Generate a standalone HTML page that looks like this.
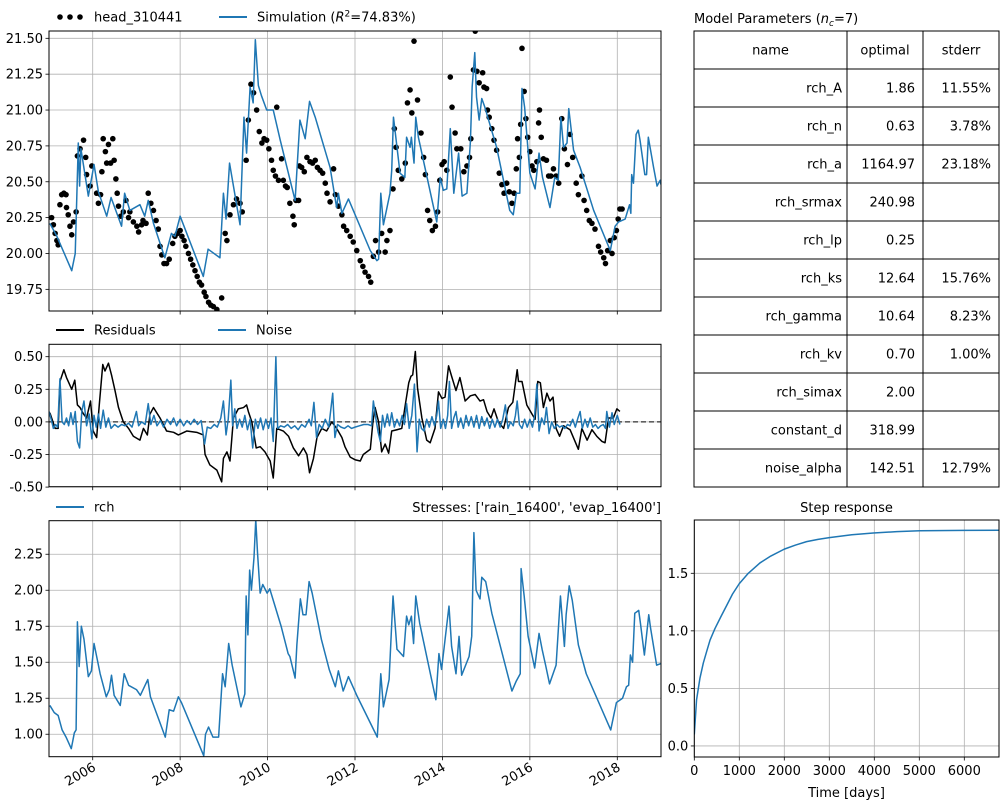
<!DOCTYPE html>
<html><head><meta charset="utf-8"><style>
body{margin:0;background:#fff;}
svg{display:block;font-family:"DejaVu Sans","Liberation Sans",sans-serif;}
</style></head><body>
<svg id="fig" width="1000" height="800" viewBox="0 0 1000 800" xmlns="http://www.w3.org/2000/svg">
<rect width="1000" height="800" fill="#fff"/>
</svg>
<script>
// ---------------- DATA ----------------
const simYears=[2005.02,2005.18,2005.52,2005.6,2005.67,2005.7,2005.73,2005.9,2006.03,2006.13,2006.32,2006.42,2006.66,2006.73,2006.85,2007.08,2007.19,2007.27,2007.39,2007.65,2007.8,2007.88,2008.0,2008.53,2008.64,2008.91,2008.99,2009.05,2009.13,2009.37,2009.46,2009.52,2009.6,2009.67,2009.72,2009.79,2009.86,2009.98,2010.13,2010.29,2010.63,2010.74,2010.86,2010.96,2011.09,2011.43,2011.58,2011.62,2011.7,2011.85,2012.35,2012.5,2012.54,2012.59,2012.65,2012.8,2012.84,2012.88,2013.03,2013.14,2013.18,2013.26,2013.29,2013.35,2013.39,2013.45,2013.87,2013.95,2014.02,2014.1,2014.18,2014.26,2014.37,2014.45,2014.56,2014.6,2014.64,2014.68,2014.74,2014.78,2014.84,2014.9,2014.97,2015.24,2015.54,2015.62,2015.69,2015.77,2015.82,2015.88,2016.0,2016.12,2016.21,2016.29,2016.46,2016.57,2016.65,2016.71,2016.77,2016.85,2016.89,2017.0,2017.15,2017.46,2017.84,2017.95,2018.03,2018.18,2018.28,2018.31,2018.33,2018.37,2018.43,2018.48,2018.52,2018.63,2018.67,2018.71,2018.83,2018.91,2018.98,2019.0];
const simValues=[20.21,20.12,19.88,20.0,20.77,20.47,20.73,20.40,20.62,20.43,20.26,20.39,20.19,20.42,20.30,20.34,20.26,20.37,20.21,19.97,20.14,20.12,20.26,19.84,20.03,19.97,20.42,20.24,20.63,20.2,20.95,20.70,21.16,21.05,21.49,21.17,21.10,21.0,21.0,20.79,20.37,20.93,20.8,21.06,20.95,20.60,20.32,20.42,20.28,20.38,20.02,19.95,19.96,20.42,20.2,20.42,20.58,20.95,20.56,20.53,20.81,20.74,20.81,20.63,20.95,20.81,20.22,20.53,20.44,20.45,20.87,20.42,20.70,20.40,20.42,20.6,20.78,21.16,21.40,21.09,20.93,21.08,21.02,20.74,20.30,20.27,20.42,20.42,21.15,21.02,20.56,20.45,20.70,20.53,20.32,20.53,20.51,20.95,20.74,20.77,21.01,20.72,20.60,20.30,20.02,20.19,20.22,20.24,20.34,20.28,20.55,20.49,20.83,20.86,20.79,20.55,20.55,20.81,20.6,20.47,20.51,20.48];
const obsYears=[2005.06,2005.10,2005.14,2005.18,2005.21,2005.25,2005.29,2005.34,2005.39,2005.40,2005.44,2005.48,2005.52,2005.56,2005.62,2005.65,2005.71,2005.79,2005.84,2005.86,2005.94,2005.98,2006.09,2006.13,2006.18,2006.21,2006.24,2006.29,2006.32,2006.36,2006.41,2006.46,2006.49,2006.53,2006.56,2006.59,2006.64,2006.70,2006.76,2006.82,2006.85,2006.93,2007.01,2007.05,2007.12,2007.15,2007.22,2007.27,2007.33,2007.39,2007.45,2007.50,2007.54,2007.58,2007.63,2007.69,2007.75,2007.83,2007.88,2007.94,2008.00,2008.04,2008.09,2008.13,2008.19,2008.24,2008.29,2008.34,2008.39,2008.44,2008.49,2008.55,2008.59,2008.65,2008.70,2008.76,2008.84,2008.95,2009.03,2009.07,2009.14,2009.22,2009.29,2009.37,2009.42,2009.51,2009.56,2009.62,2009.68,2009.75,2009.81,2009.87,2009.92,2009.98,2010.03,2010.09,2010.13,2010.18,2010.21,2010.25,2010.32,2010.36,2010.41,2010.45,2010.51,2010.58,2010.61,2010.65,2010.71,2010.73,2010.78,2010.84,2010.90,2010.97,2011.03,2011.09,2011.14,2011.20,2011.26,2011.32,2011.36,2011.43,2011.51,2011.55,2011.62,2011.70,2011.74,2011.81,2011.89,2011.96,2012.04,2012.12,2012.18,2012.23,2012.31,2012.36,2012.42,2012.47,2012.54,2012.61,2012.69,2012.73,2012.80,2012.87,2012.90,2012.94,2012.99,2013.07,2013.15,2013.20,2013.26,2013.30,2013.35,2013.43,2013.51,2013.57,2013.61,2013.66,2013.71,2013.77,2013.84,2013.89,2013.94,2013.99,2014.04,2014.10,2014.18,2014.22,2014.29,2014.33,2014.42,2014.49,2014.56,2014.62,2014.65,2014.71,2014.75,2014.79,2014.84,2014.92,2014.95,2015.01,2015.03,2015.07,2015.13,2015.18,2015.24,2015.30,2015.36,2015.41,2015.47,2015.53,2015.59,2015.64,2015.69,2015.72,2015.76,2015.79,2015.82,2015.87,2015.91,2015.95,2016.00,2016.05,2016.09,2016.16,2016.20,2016.22,2016.26,2016.31,2016.38,2016.43,2016.48,2016.54,2016.60,2016.66,2016.73,2016.79,2016.86,2016.92,2016.98,2017.06,2017.11,2017.19,2017.24,2017.30,2017.36,2017.42,2017.49,2017.57,2017.62,2017.69,2017.73,2017.78,2017.84,2017.88,2017.93,2017.98,2018.02,2018.06,2018.11];
const obsValues=[20.25,20.20,20.14,20.09,20.06,20.34,20.41,20.42,20.41,20.32,20.27,20.19,20.13,20.22,20.29,20.68,20.73,20.79,20.67,20.55,20.47,20.61,20.42,20.35,20.41,20.57,20.80,20.71,20.63,20.76,20.63,20.80,20.65,20.52,20.42,20.33,20.26,20.29,20.37,20.25,20.29,20.22,20.19,20.15,20.20,20.23,20.21,20.42,20.35,20.30,20.23,20.17,20.05,19.99,19.93,19.93,19.96,20.07,20.12,20.14,20.16,20.12,20.09,20.05,20.00,19.96,19.92,19.88,19.84,19.80,19.78,19.73,19.70,19.66,19.64,19.63,19.61,19.69,20.14,20.09,20.27,20.34,20.38,20.35,20.29,20.65,20.93,21.18,21.12,21.0,20.85,20.77,20.80,20.79,20.73,20.65,20.58,20.54,21.02,20.51,20.66,20.51,20.47,20.46,20.35,20.26,20.20,20.37,20.37,20.61,20.60,20.57,20.67,20.64,20.63,20.65,20.60,20.58,20.56,20.49,20.42,20.36,20.59,20.41,20.33,20.27,20.19,20.16,20.12,20.08,20.02,19.95,19.91,19.87,19.84,19.80,19.98,20.09,20.01,20.14,20.01,20.09,20.16,20.45,20.87,20.74,20.58,20.52,20.63,21.05,21.14,20.98,21.48,21.07,20.84,20.67,20.55,20.30,20.23,20.16,20.19,20.29,20.51,20.62,20.64,20.58,21.23,21.02,20.84,20.73,20.73,20.57,20.61,20.67,20.80,21.28,21.55,21.27,21.19,21.26,21.16,21.15,21.00,20.95,20.87,20.79,20.72,20.56,20.48,20.42,20.49,20.43,20.35,20.42,20.59,20.80,20.67,20.90,21.43,21.13,20.94,20.81,20.71,20.61,20.58,20.64,20.91,21.00,20.81,20.66,20.65,20.54,20.54,20.59,20.54,20.49,20.94,20.73,20.62,20.83,20.67,20.49,20.41,20.54,20.37,20.30,20.23,20.21,20.17,20.05,20.01,19.97,19.93,20.02,20.09,20.00,20.11,20.16,20.24,20.31,20.31];
const resYears=[2005.02,2005.14,2005.21,2005.25,2005.34,2005.40,2005.52,2005.59,2005.65,2005.71,2005.79,2005.86,2005.95,2006.01,2006.09,2006.15,2006.23,2006.28,2006.36,2006.43,2006.51,2006.59,2006.70,2006.82,2006.93,2007.08,2007.16,2007.25,2007.31,2007.39,2007.54,2007.69,2007.85,2007.96,2008.15,2008.38,2008.53,2008.57,2008.68,2008.84,2008.95,2008.99,2009.07,2009.14,2009.22,2009.33,2009.45,2009.52,2009.56,2009.64,2009.74,2009.83,2009.94,2010.06,2010.13,2010.21,2010.36,2010.48,2010.59,2010.71,2010.82,2010.90,2010.96,2011.05,2011.13,2011.24,2011.35,2011.47,2011.58,2011.70,2011.77,2011.89,2012.00,2012.12,2012.19,2012.35,2012.41,2012.46,2012.54,2012.61,2012.69,2012.77,2012.84,2012.96,2013.07,2013.15,2013.23,2013.28,2013.32,2013.38,2013.43,2013.53,2013.64,2013.72,2013.83,2013.91,2013.99,2014.06,2014.14,2014.21,2014.31,2014.40,2014.52,2014.64,2014.75,2014.86,2014.94,2015.02,2015.11,2015.18,2015.28,2015.40,2015.51,2015.61,2015.71,2015.74,2015.82,2015.93,2016.05,2016.12,2016.18,2016.24,2016.31,2016.39,2016.46,2016.53,2016.60,2016.68,2016.77,2016.92,2017.11,2017.19,2017.31,2017.42,2017.53,2017.65,2017.72,2017.80,2017.91,2017.99,2018.06];
const resValues=[0.07,-0.05,-0.05,0.31,0.40,0.34,0.25,0.32,0.13,0.11,0.06,0.03,0.16,-0.07,-0.12,0.13,0.44,0.39,0.45,0.36,0.24,0.11,0.0,-0.05,-0.11,-0.14,-0.05,-0.10,0.06,0.11,0.03,-0.07,-0.08,-0.10,-0.07,-0.08,-0.10,-0.25,-0.33,-0.37,-0.46,-0.28,-0.23,-0.30,0.03,0.10,0.11,0.13,0.08,0.0,-0.2,-0.19,-0.23,-0.30,-0.43,-0.05,-0.07,-0.11,-0.2,-0.26,-0.20,-0.25,-0.39,-0.28,-0.12,-0.05,-0.07,0.0,-0.05,-0.12,-0.19,-0.27,-0.29,-0.30,-0.25,-0.21,0.0,0.11,0.0,-0.23,-0.17,-0.24,-0.07,-0.06,-0.05,0.13,0.30,0.35,0.36,0.54,0.26,0.03,-0.14,-0.16,-0.05,0.23,0.18,0.19,0.43,0.35,0.24,0.34,0.16,0.20,0.21,0.16,0.17,0.08,0.03,0.10,0.0,-0.05,0.11,0.15,0.40,0.31,0.31,0.13,0.06,0.02,0.31,0.30,0.11,0.22,0.16,0.19,-0.05,-0.11,-0.03,-0.06,-0.21,-0.05,-0.14,-0.06,-0.11,-0.15,-0.16,0.03,0.03,0.10,0.08];
const noiseYears=[2005.00,2005.05,2005.10,2005.15,2005.20,2005.25,2005.30,2005.35,2005.40,2005.45,2005.50,2005.55,2005.60,2005.65,2005.70,2005.75,2005.80,2005.86,2005.92,2005.98,2006.03,2006.08,2006.13,2006.18,2006.24,2006.30,2006.36,2006.42,2006.50,2006.58,2006.66,2006.74,2006.82,2006.90,2007.00,2007.05,2007.12,2007.20,2007.27,2007.33,2007.40,2007.47,2007.55,2007.62,2007.70,2007.78,2007.85,2007.92,2008.00,2008.08,2008.16,2008.24,2008.32,2008.40,2008.48,2008.56,2008.62,2008.70,2008.78,2008.85,2008.93,2008.99,2009.05,2009.10,2009.16,2009.20,2009.25,2009.30,2009.36,2009.42,2009.48,2009.54,2009.60,2009.66,2009.72,2009.78,2009.84,2009.90,2009.96,2010.02,2010.08,2010.13,2010.19,2010.23,2010.30,2010.38,2010.46,2010.54,2010.62,2010.70,2010.78,2010.86,2010.95,2011.00,2011.06,2011.12,2011.18,2011.25,2011.32,2011.40,2011.49,2011.54,2011.60,2011.68,2011.76,2011.84,2011.92,2012.00,2012.10,2012.20,2012.30,2012.38,2012.42,2012.48,2012.53,2012.58,2012.63,2012.68,2012.74,2012.79,2012.84,2012.90,2012.96,2013.02,2013.08,2013.13,2013.18,2013.24,2013.30,2013.36,2013.42,2013.47,2013.52,2013.58,2013.64,2013.70,2013.76,2013.82,2013.87,2013.91,2013.96,2014.02,2014.07,2014.12,2014.16,2014.21,2014.26,2014.31,2014.36,2014.42,2014.48,2014.54,2014.60,2014.66,2014.72,2014.78,2014.84,2014.90,2014.96,2015.02,2015.08,2015.14,2015.20,2015.26,2015.32,2015.38,2015.44,2015.50,2015.56,2015.62,2015.67,2015.71,2015.76,2015.82,2015.88,2015.94,2016.00,2016.06,2016.11,2016.16,2016.21,2016.27,2016.33,2016.38,2016.44,2016.50,2016.56,2016.62,2016.68,2016.74,2016.80,2016.86,2016.92,2016.98,2017.04,2017.10,2017.15,2017.20,2017.26,2017.32,2017.38,2017.44,2017.50,2017.56,2017.62,2017.68,2017.73,2017.76,2017.82,2017.88,2017.93,2018.00,2018.06];
const noiseValues=[0.08,0.02,-0.05,-0.02,-0.04,0.33,0.0,-0.02,0.03,-0.03,0.07,-0.02,0.08,-0.15,-0.20,0.08,0.16,-0.03,0.06,-0.13,0.05,-0.04,0.06,-0.05,0.09,-0.04,0.03,-0.05,-0.02,-0.04,-0.02,-0.03,-0.01,-0.04,0.08,-0.03,0.0,-0.02,0.14,-0.02,0.05,-0.03,0.01,-0.04,0.02,-0.02,0.03,-0.03,0.02,-0.03,0.01,-0.02,0.02,-0.02,0.01,-0.17,-0.04,-0.05,-0.02,-0.04,0.03,0.16,-0.10,0.02,0.32,-0.03,0.10,-0.05,0.02,-0.04,0.05,-0.06,0.02,-0.20,0.02,-0.05,0.03,-0.06,0.02,-0.05,0.03,-0.15,0.50,-0.05,-0.03,-0.04,-0.02,-0.05,-0.03,-0.06,-0.02,-0.04,0.02,-0.03,0.15,-0.12,-0.02,-0.05,0.02,-0.04,0.22,-0.12,-0.02,-0.04,-0.05,-0.03,-0.05,-0.04,-0.03,-0.02,-0.02,-0.03,0.16,0.02,-0.08,-0.15,0.05,-0.04,0.06,-0.03,0.07,-0.04,0.02,-0.03,0.05,-0.02,0.14,-0.05,0.05,0.29,-0.23,0.02,-0.05,-0.07,0.02,-0.04,0.04,-0.03,0.05,0.16,-0.05,0.02,-0.05,0.05,0.31,-0.05,0.03,0.08,-0.04,0.03,-0.05,0.05,-0.03,0.04,-0.04,0.05,-0.05,0.04,-0.03,0.03,-0.05,0.02,-0.04,0.02,-0.04,0.02,0.13,-0.05,0.0,-0.03,0.05,0.16,-0.02,-0.05,0.02,-0.04,0.02,-0.04,0.05,0.29,-0.07,0.03,-0.02,0.11,-0.09,0.0,-0.05,-0.02,-0.04,-0.03,-0.05,-0.02,-0.03,0.02,-0.04,0.03,0.08,-0.05,0.02,-0.04,0.03,-0.04,-0.02,-0.05,-0.03,-0.02,-0.05,0.08,-0.04,0.07,-0.02,0.05,-0.02];
const rchYears=[2005.02,2005.12,2005.21,2005.30,2005.39,2005.51,2005.58,2005.62,2005.65,2005.69,2005.74,2005.80,2005.90,2005.97,2006.03,2006.17,2006.31,2006.38,2006.43,2006.49,2006.63,2006.72,2006.82,2007.00,2007.09,2007.26,2007.32,2007.66,2007.75,2007.85,2007.96,2008.03,2008.54,2008.58,2008.65,2008.75,2008.88,2008.97,2009.03,2009.11,2009.19,2009.39,2009.48,2009.51,2009.55,2009.59,2009.63,2009.69,2009.73,2009.77,2009.83,2009.89,2009.99,2010.05,2010.12,2010.31,2010.47,2010.51,2010.63,2010.67,2010.75,2010.81,2010.88,2010.95,2011.02,2011.23,2011.41,2011.55,2011.62,2011.73,2011.85,2012.04,2012.51,2012.59,2012.65,2012.78,2012.87,2012.96,2013.11,2013.18,2013.23,2013.29,2013.34,2013.39,2013.48,2013.85,2013.92,2013.98,2014.15,2014.21,2014.31,2014.38,2014.44,2014.61,2014.67,2014.72,2014.77,2014.86,2014.90,2014.99,2015.13,2015.59,2015.69,2015.78,2015.80,2015.87,2015.96,2016.11,2016.21,2016.28,2016.36,2016.45,2016.60,2016.65,2016.70,2016.79,2016.83,2016.90,2016.97,2017.11,2017.29,2017.85,2017.98,2018.12,2018.21,2018.26,2018.30,2018.35,2018.40,2018.49,2018.53,2018.62,2018.72,2018.76,2018.90,2018.99];
const rchValues=[1.20,1.15,1.13,1.03,0.98,0.90,1.01,1.03,1.78,1.47,1.75,1.66,1.40,1.44,1.63,1.42,1.26,1.31,1.41,1.27,1.20,1.42,1.34,1.31,1.27,1.38,1.26,0.98,1.17,1.16,1.26,1.22,0.85,1.0,1.05,0.98,0.98,1.42,1.33,1.63,1.48,1.19,1.28,1.96,1.69,2.14,2.0,2.23,2.49,2.26,1.98,2.04,1.98,2.01,1.94,1.75,1.56,1.54,1.39,1.62,1.94,1.83,1.83,2.06,1.98,1.66,1.45,1.33,1.44,1.30,1.40,1.27,0.98,1.42,1.19,1.38,1.96,1.59,1.54,1.82,1.76,1.82,1.63,1.96,1.77,1.24,1.56,1.45,1.89,1.61,1.42,1.68,1.41,1.54,1.68,2.40,2.0,1.94,2.09,2.06,1.84,1.30,1.37,1.42,2.15,1.96,1.68,1.46,1.70,1.59,1.48,1.35,1.48,1.72,1.96,1.61,1.83,2.03,1.93,1.62,1.42,1.03,1.22,1.25,1.33,1.34,1.55,1.50,1.84,1.86,1.77,1.55,1.83,1.74,1.48,1.49];
const stepTimes=[0,50,126,200,274,350,459,600,719,850,1000,1200,1459,1700,2000,2250,2496,2750,3000,3500,3978,4500,5015,6000,6793];
const stepValues=[0.10,0.40,0.59,0.72,0.82,0.92,1.02,1.13,1.22,1.32,1.41,1.50,1.59,1.65,1.71,1.745,1.775,1.795,1.81,1.835,1.85,1.862,1.87,1.873,1.874];
const yearTicks=[2006,2008,2010,2012,2014,2016,2018];
const headTicks=[19.75,20.00,20.25,20.50,20.75,21.00,21.25,21.50];
const resTicks=[-0.50,-0.25,0.00,0.25,0.50];
const rchTicks=[1.00,1.25,1.50,1.75,2.00,2.25];
const stepYTicks=[0.0,0.5,1.0,1.5];
const stepXTicks=[0,1000,2000,3000,4000,5000,6000];
const paramNames=["rch_A","rch_n","rch_a","rch_srmax","rch_lp","rch_ks","rch_gamma","rch_kv","rch_simax","constant_d","noise_alpha"];
const paramOptimal=["1.86","0.63","1164.97","240.98","0.25","12.64","10.64","0.70","2.00","318.99","142.51"];
const paramStderr=["11.55%","3.78%","23.18%","","","15.76%","8.23%","1.00%","","","12.79%"];

// ---------------- HELPERS ----------------
const SVGNS="http://www.w3.org/2000/svg";
const figEl=document.getElementById('fig');
function mk(tag,attrs,parent,text){const e=document.createElementNS(SVGNS,tag);for(const k in attrs)e.setAttribute(k,attrs[k]);if(text!==undefined)e.textContent=text;(parent||figEl).appendChild(e);return e;}
function scale(d0,d1,p0,p1){return v=>p0+(v-d0)/(d1-d0)*(p1-p0);}
const BLUE="#1f77b4";

function panel(name,x0,x1,y0,y1,xmin,xmax,ymin,ymax,xtk,ytk,fmtY,xlabels,fmtX){
  const g=mk('g',{});
  
  
  const X=scale(xmin,xmax,x0,x1),Y=scale(ymin,ymax,y1,y0);
  const grid=mk('g',{},g);
  
  
  xtk.forEach(t=>{const gl=mk('line',{x1:X(t),x2:X(t),y1:y0,y2:y1,stroke:'#b0b0b0','stroke-width':0.8},grid);
    
    });
  ytk.forEach(t=>{const gl=mk('line',{x1:x0,x2:x1,y1:Y(t),y2:Y(t),stroke:'#b0b0b0','stroke-width':0.8},grid);
    
    });
  const axg=mk('g',{},g);
  
  
  ytk.forEach(t=>{mk('line',{x1:x0-3.5,x2:x0,y1:Y(t),y2:Y(t),stroke:'#000','stroke-width':0.8},axg);
    const tx=mk('text',{x:x0-6,y:Y(t)+4.5,'text-anchor':'end','font-size':13},axg,fmtY(t));
    
    });
  xtk.forEach(t=>{mk('line',{x1:X(t),x2:X(t),y1:y1,y2:y1+3.5,stroke:'#000','stroke-width':0.8},axg);
    if(xlabels==='rot'){const tx=mk('text',{x:X(t)+4,y:y1+13,'text-anchor':'end','font-size':13,transform:'rotate(-30 '+(X(t)+4)+' '+(y1+13)+')'},axg,String(t));
      
      }
    else if(xlabels==='num'){const tx=mk('text',{x:X(t),y:y1+18,'text-anchor':'middle','font-size':13},axg,fmtX(t));
      
      }
  });
  const clipId='clip-'+name;
  const cp=mk('clipPath',{id:clipId},g);mk('rect',{x:x0,y:y0,width:x1-x0,height:y1-y0},cp);
  const plot=mk('g',{'clip-path':'url(#'+clipId+')'},g);
  
  
  const frame=mk('rect',{x:x0,y:y0,width:x1-x0,height:y1-y0,fill:'none',stroke:'#000','stroke-width':1},g);
  
  
  return {X,Y,plot,g};
}
function drawLine(p,xs,ys,color,w,name){
  const d=xs.map((x,i)=>(i?'L':'M')+p.X(x).toFixed(2)+','+p.Y(ys[i]).toFixed(2)).join('');
  const pa=mk('path',{d:d,fill:'none',stroke:color,'stroke-width':w,'stroke-linejoin':'round'},p.plot);
  
  
  return pa;
}
const f2=v=>v.toFixed(2), f1=v=>v.toFixed(1);

// ---------------- TOP PANEL ----------------
const headP=panel('head-panel',49,661,31,311,2005,2019,19.599,21.551,yearTicks,headTicks,f2,null);
obsYears.forEach((yr,i)=>{const c=mk('circle',{cx:headP.X(yr),cy:headP.Y(obsValues[i]),r:2.8,fill:'#000'},headP.plot);
  
  });
drawLine(headP,simYears,simValues,BLUE,1.5,'simulation-line');

// ---------------- MIDDLE PANEL ----------------
const resP=panel('residuals-panel',49,661,344.3,486.7,2005,2019,-0.497,0.595,yearTicks,resTicks,f2,null);
const zl=mk('line',{x1:49,x2:661,y1:resP.Y(0),y2:resP.Y(0),stroke:'#000','stroke-width':1,'stroke-dasharray':'5,3'},resP.plot);


drawLine(resP,resYears,resValues,'#000',1.5,'residuals-line');
drawLine(resP,noiseYears,noiseValues,BLUE,1.5,'noise-line');

// ---------------- BOTTOM PANEL ----------------
const rchP=panel('recharge-panel',49,661,520.7,756.7,2005,2019,0.844,2.483,yearTicks,rchTicks,f2,'rot');
drawLine(rchP,rchYears,rchValues,BLUE,1.5,'rch-line');

// ---------------- STEP RESPONSE ----------------
const stepP=panel('step-response-panel',694.3,999,520,757,0,6771,-0.096,1.963,stepXTicks,stepYTicks,f1,'num',v=>String(v));
drawLine(stepP,stepTimes,stepValues,BLUE,1.5,'step-response-line');

// ---------------- LEGENDS & TITLES ----------------
function legend(name,items,y){
  const g=mk('g',{});
  
  
  items.forEach(it=>{
    if(it.dots){[0,1,2].forEach(k=>mk('circle',{cx:it.x+4+k*10,cy:y,r:2.8,fill:it.color},g));}
    else mk('line',{x1:it.x,x2:it.x+28,y1:y,y2:y,stroke:it.color,'stroke-width':2},g);
    const t=mk('text',{x:it.x+38,y:y+4.5,'font-size':13},g);
    t.innerHTML=it.label;
    
    
  });
}
legend('head-legend',[{x:56,color:'#000',dots:true,label:'head_310441'},{x:219,color:BLUE,label:'Simulation (<tspan font-style="italic">R</tspan><tspan font-size="9" dy="-5">2</tspan><tspan dy="5">=74.83%)</tspan>'}],17);
legend('residuals-legend',[{x:56,color:'#000',label:'Residuals'},{x:218,color:BLUE,label:'Noise'}],330);
legend('recharge-legend',[{x:56,color:BLUE,label:'rch'}],507);
const stt=mk('text',{x:661,y:512,'text-anchor':'end','font-size':13},figEl,"Stresses: ['rain_16400', 'evap_16400']");


const srt=mk('text',{x:846.5,y:512,'text-anchor':'middle','font-size':13},figEl,'Step response');


const xat=mk('text',{x:846.5,y:797,'text-anchor':'middle','font-size':13},figEl,'Time [days]');



// ---------------- TABLE ----------------
const tg=mk('g',{});


const tt=mk('text',{x:694,y:23,'font-size':13},tg);
tt.innerHTML='Model Parameters (<tspan font-style="italic">n</tspan><tspan font-size="9" dy="3" font-style="italic">c</tspan><tspan dy="-3">=7)</tspan>';


const tx0=694,tx1=847,tx2=923,tx3=999,ty0=31,rh=38;
const nRows=paramNames.length+1;
for(let r=0;r<nRows;r++){
  const y=ty0+r*rh;
  [[tx0,tx1],[tx1,tx2],[tx2,tx3]].forEach(([a,b])=>mk('rect',{x:a,y:y,width:b-a,height:rh,fill:'#fff',stroke:'#000','stroke-width':1},tg));
  const cy=y+rh/2+4.5;
  if(r===0){
    [['name',(tx0+tx1)/2],['optimal',(tx1+tx2)/2],['stderr',(tx2+tx3)/2]].forEach(([s,x])=>{
      const h=mk('text',{x:x,y:cy,'text-anchor':'middle','font-size':13},tg,s);
      
      });
  } else {
    const i=r-1;
    const a=mk('text',{x:tx1-5,y:cy,'text-anchor':'end','font-size':13},tg,paramNames[i]);
    
    
    const b=mk('text',{x:tx2-8,y:cy,'text-anchor':'end','font-size':13},tg,paramOptimal[i]);
    
    
    const c=mk('text',{x:tx3-8,y:cy,'text-anchor':'end','font-size':13},tg,paramStderr[i]);
    
    
  }
}
</script>
</body></html>
